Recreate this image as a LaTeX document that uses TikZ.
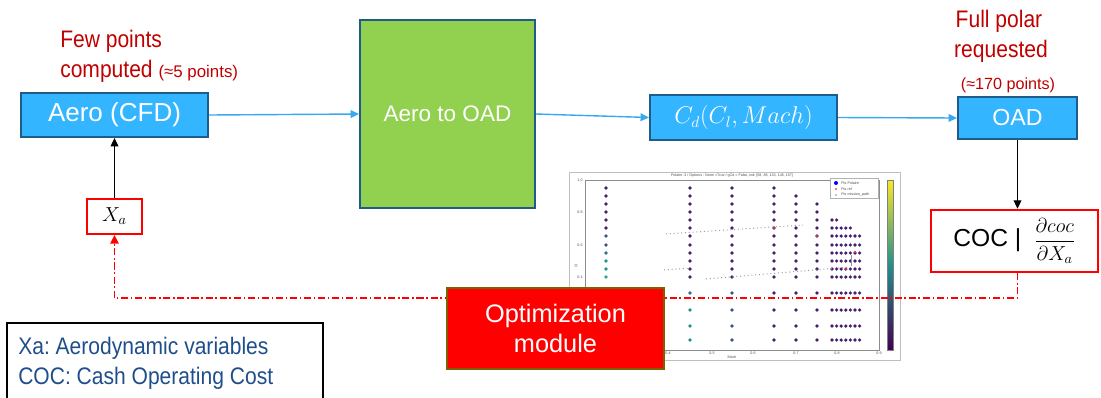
\documentclass[tikz,border=0pt]{standalone}
\usepackage{fontspec}
\setmainfont{Liberation Sans}
\newfontfamily\narrowfont[FakeStretch=0.88]{Liberation Sans}
\usetikzlibrary{arrows.meta}
\frenchspacing
\definecolor{aeroblue}{RGB}{51,181,255}
\definecolor{boxedge}{RGB}{31,92,135}
\definecolor{oadgreen}{RGB}{146,208,80}
\definecolor{linkblue}{RGB}{58,168,240}
\definecolor{notered}{RGB}{192,0,0}
\definecolor{keyblue}{RGB}{31,78,140}
\definecolor{optedge}{RGB}{127,96,0}
\definecolor{vpur}{RGB}{72,30,112}
\definecolor{vblu}{RGB}{59,82,139}
\definecolor{vbl2}{RGB}{44,114,142}
\definecolor{vtea}{RGB}{33,145,140}
\definecolor{vgrn}{RGB}{40,170,130}
\definecolor{vbot}{RGB}{68,1,84}
\definecolor{vtop}{RGB}{253,231,37}
\tikzset{
  bluebox/.style={draw=boxedge, fill=aeroblue, line width=1.4pt, text=white,
    inner sep=0pt, font=\fontsize{18.5}{20}\selectfont},
  redbox/.style={draw=red, fill=white, line width=1.6pt, inner sep=0pt},
  note/.style={text=notered, inner sep=0pt, font=\narrowfont\fontsize{17}{20}\selectfont},
  smallnote/.style={text=notered, inner sep=0pt, font=\fontsize{11.5}{14}\selectfont},
  link/.style={linkblue, line width=1pt, -{Triangle[length=6pt, width=5.5pt]}},
  feed/.style={line width=1pt, -{Triangle[length=6pt, width=5.5pt]}},
  backpath/.style={red, line width=1pt, dash pattern=on 5pt off 2pt on 1pt off 2pt,
    -{Triangle[length=6pt, width=6pt]}},
  tinytext/.style={text=black!70, inner sep=0pt, font=\fontsize{2.6}{3}\selectfont},
}
\begin{document}
\begin{tikzpicture}[x=0.025cm, y=-0.025cm]
    \useasboundingbox (0, 0) rectangle (1101, 397) ;
    % polar plot
    \draw[black!25, line width=0.6pt] (569, 172) rectangle (900, 360) ;
    \draw[black!45, line width=0.4pt] (585, 180) rectangle (879, 350) ;
    \shade[bottom color=vbot, top color=vtop, middle color=vtea] (887, 180) rectangle (893, 350) ;
    \draw[black!50, line width=0.3pt] (887, 180) rectangle (893, 350) ;
    \node[tinytext] (ptitle) at (732, 176) {Polaire :3 / Options : Norm =True / gCd = False, ind: [58, 88, 133, 145, 157]} ;
    \node[tinytext] (xlab) at (732, 357) {Mach} ;
    \node[tinytext, rotate=90] (ylab) at (576, 266) {Cl} ;
    \foreach \xx/\tt in {668/0.4, 712/0.5, 753/0.6, 796/0.7, 837/0.8, 879/0.9}
      \node[tinytext] (xt\tt) at (\xx, 353) {\tt} ;
    \foreach \yy/\tt in {180/1.0, 212/0.8, 245/0.6, 277/0.4}
      \node[tinytext] (yt\tt) at (580, \yy) {\tt} ;
    \foreach \yy/\cc in {188/vpur, 196/vpur, 204/vpur, 212/vpur, 220/vpur, 228/vpur,
                         236/vblu, 245/vblu, 253/vbl2, 261/vtea, 269/vtea, 277/vgrn}
      \fill[\cc] (606, \yy) circle (0.045cm) ;
    \foreach \xx in {690, 732, 774}
      \foreach \yy in {188, 196, 204, 212, 220, 228, 236, 245, 253, 261, 269, 277}
        \fill[vpur] (\xx, \yy) circle (0.045cm) ;
    \foreach \yy/\cc in {293/vbl2, 310/vtea, 326/vtea, 340/vtea}
      \fill[\cc] (690, \yy) circle (0.045cm) ;
    \foreach \yy in {293, 310, 326, 340} {
      \fill[vblu] (732, \yy) circle (0.045cm) ;
      \fill[vpur] (774, \yy) circle (0.045cm) ;
    }
    \foreach \yy in {196, 204, 212, 220, 228, 236, 245, 253, 261, 269, 277, 293, 310, 326, 340}
      \fill[vpur] (796, \yy) circle (0.045cm) ;
    \foreach \yy in {204, 212, 220, 228, 236, 245, 253, 261, 269, 277, 293, 310, 326, 340}
      \fill[vpur] (817, \yy) circle (0.045cm) ;
    \foreach \xx in {832, 836.6}
      \fill[vpur] (\xx, 220) circle (0.045cm) ;
    \foreach \xx in {832, 836.6, 841.2, 845.8, 850.4}
      \fill[vpur] (\xx, 228) circle (0.045cm) ;
    \foreach \xx in {832, 836.6, 841.2, 845.8, 850.4, 855, 859.6}
      \foreach \yy in {236, 245, 253, 261, 269, 277, 293, 310, 326, 340}
        \fill[vpur] (\xx, \yy) circle (0.045cm) ;
    \draw[black!40, dotted, line width=0.7pt] (666, 234) -- (803, 225) ;
    \draw[black!40, dotted, line width=0.7pt] (664, 270) -- (692, 268) ;
    \draw[black!40, dotted, line width=0.7pt] (706, 279) -- (850, 267) ;
    \draw[black!40, line width=0.4pt] (851, 255) -- (851, 266) ;
    \foreach \xx/\yy in {774/228, 817/236, 855/252, 846/269}
      \fill[red!80] (\xx, \yy) circle (0.03cm) ;
    \draw[black!30, fill=white, line width=0.3pt] (830, 178) rectangle (878, 198) ;
    \fill[blue] (836, 183) circle (0.05cm) ;
    \fill[red!70] (836, 189) circle (0.03cm) ;
    \fill[black!30] (836, 195) circle (0.03cm) ;
    \node[tinytext, anchor=west] (lg1) at (841, 183) {Pts Polaire} ;
    \node[tinytext, anchor=west] (lg2) at (841, 189) {Pts ref} ;
    \node[tinytext, anchor=west] (lg3) at (841, 195) {Pts mission\_path} ;
    % blocks
    \node[bluebox, minimum width=4.675cm, minimum height=1.1cm] (cfd) at (114.5, 115) {Aero (CFD)} ;
    \node[bluebox, fill=oadgreen, minimum width=4.375cm, minimum height=4.7cm,
      font=\fontsize{16}{18}\selectfont] (aoad) at (447.5, 114) {Aero to OAD} ;
    \node[bluebox, minimum width=4.675cm, minimum height=1.125cm,
      font=\fontsize{16}{18}\selectfont] (cd) at (743.5, 117.5) {$C_d(C_l, Mach)$} ;
    \node[bluebox, minimum width=2.975cm, minimum height=1.05cm,
      font=\fontsize{16.5}{18}\selectfont] (oad) at (1017.5, 118) {OAD} ;
    \node[redbox, line width=1.8pt, minimum width=4.175cm, minimum height=1.55cm,
      font=\fontsize{17.5}{20}\selectfont] (coc) at (1014.5, 241)
      {COC \textbar\hspace{9pt}{\fontsize{14}{16}\selectfont$\displaystyle\frac{\partial coc}{\partial X_a}$}\hspace{6pt}} ;
    \node[redbox, minimum width=1.375cm, minimum height=0.875cm,
      font=\fontsize{14}{16}\selectfont] (xa) at (114.5, 216.5) {$X_a$} ;
    % notes
    \node[note, anchor=base west] (few) at (60, 47) {Few points} ;
    \node[note, anchor=base west] (comp) at (60, 77) {computed \normalfont\fontsize{12}{14}\selectfont(≈5 points)} ;
    \node[note, anchor=base] (full) at (999, 27) {Full polar} ;
    \node[note, anchor=base] (req) at (1001, 57) {requested} ;
    \node[smallnote, anchor=base] (n170) at (1008, 89) {(≈170 points)} ;
    % links
    \draw[link] (cfd.east) -- (aoad.west) ;
    \draw[link] (aoad.east) -- (cd.west) ;
    \draw[link] (cd.east) -- (oad.west) ;
    \draw[feed] (xa.north) -- (cfd.south) ;
    \draw[feed] (oad.south) -- (oad.south |- coc.north) ;
    \coordinate (turn) at (1017.5, 298) ;
    \draw[backpath] (oad.south |- coc.south) -- (turn) -| (xa.south) ;
    \node[draw=optedge, fill=red, line width=1.4pt, text=white, align=center,
      minimum width=5.425cm, minimum height=2.025cm, inner sep=0pt,
      font=\fontsize{18}{21}\selectfont] (opt) at (555.5, 328.5) {Optimization\\module} ;
    % key
    \draw[line width=1.4pt] (7, 323) rectangle (323, 430) ;
    \node[anchor=base west, text=keyblue, align=left, inner sep=0pt,
      font=\narrowfont\fontsize{17}{21.3}\selectfont] (key) at (18, 384)
      {Xa: Aerodynamic variables\\COC: Cash Operating Cost} ;
\end{tikzpicture}
\end{document}
